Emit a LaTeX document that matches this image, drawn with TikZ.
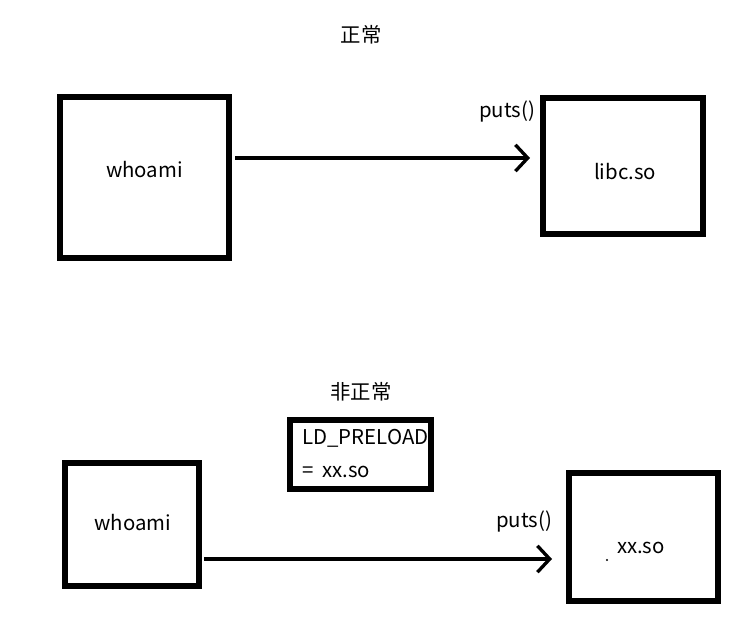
\documentclass[tikz,border=0pt]{standalone}
\usepackage{fontspec}
\setmainfont{Noto Sans CJK SC}
\usetikzlibrary{arrows.meta}
\tikzset{
  box/.style={draw,line width=2.9pt,inner sep=0pt},
  txt/.style={inner sep=0pt,font=\fontsize{11.6pt}{13pt}\selectfont},
  arr/.style={line width=1.9pt,-{Straight Barb[length=7pt,width=15pt,line width=1.9pt]}}
}
\begin{document}
\begin{tikzpicture}[x=0.02cm,y=-0.02cm]
\useasboundingbox (0,0) rectangle (755,628);
% normal case
\node[txt] (t1) at (361,35) {正常};
\node[box,minimum width=169*0.02cm,minimum height=161*0.02cm] (who1) at (144.5,177.5) {};
\node[txt] at (who1.center) [yshift=0.15cm] {whoami};
\node[box,minimum width=160*0.02cm,minimum height=136*0.02cm] (lib) at (623,166) {};
\node[txt] (libt) at (625,172) {libc.so};
\node[txt] (p1) at (507,112) {puts()};
\coordinate (a1) at (235,158);
\coordinate (b1) at (530,158);
\draw[arr] (a1) -- (b1);
% with LD_PRELOAD
\node[txt] (t2) at (361,392) {非正常};
\node[box,minimum width=141*0.02cm,minimum height=69*0.02cm] (ld) at (360.5,454.5) {};
\node[txt,anchor=west] (ld1) at (302,438) {LD\_PRELOAD};
\node[txt,anchor=west] (ld2) at (302,472) {=\hspace{5pt}xx.so};
\node[box,minimum width=134*0.02cm,minimum height=123*0.02cm] (who2) at (132,524.5) {};
\node[txt] (w2t) at (133,523) {whoami};
\node[box,minimum width=149*0.02cm,minimum height=128*0.02cm] (xx) at (643.5,537) {};
\node[txt] (xxt) at (641,548) {xx.so};
\fill (607,560) circle (0.6pt);
\node[txt] (p2) at (524,521) {puts()};
\coordinate (a2) at (204,559);
\coordinate (b2) at (552,559);
\draw[arr] (a2) -- (b2);
\end{tikzpicture}
\end{document}
